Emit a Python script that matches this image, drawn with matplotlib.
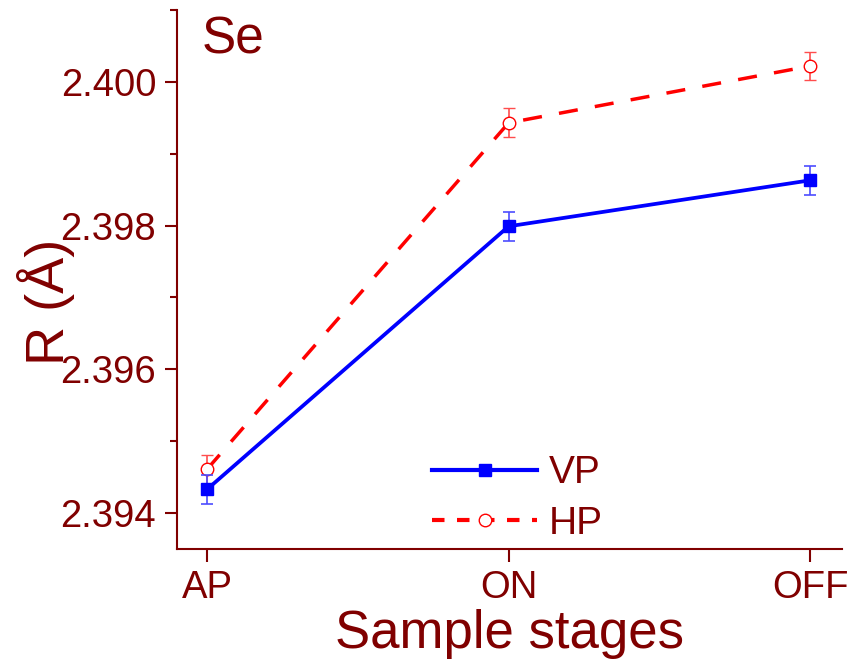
import matplotlib
matplotlib.use("Agg")
import matplotlib.pyplot as plt
from matplotlib.lines import Line2D
from matplotlib.ticker import MultipleLocator

stages = ["AP", "ON", "OFF"]
vp = [2.39433, 2.39799, 2.39863]
vp_err = [0.0002, 0.0002, 0.0002]
hp = [2.39461, 2.39943, 2.40022]
hp_err = [0.0002, 0.0002, 0.0002]

dark = "#800000"
dash = (0, (5.5, 5))
plt.rcParams["font.family"] = ["Liberation Sans", "DejaVu Sans"]

fig = plt.figure(figsize=(8.48, 6.67), dpi=100)
ax = fig.add_axes([0.2087, 0.177, 0.784, 0.808])

x = list(range(len(stages)))
ax.errorbar(x, vp, yerr=vp_err, color="blue", lw=2.7, marker="s", ms=8,
            ecolor=(0.3, 0.3, 1.0), elinewidth=1.2, capsize=4, capthick=1.2,
            zorder=3)
ax.errorbar(x, hp, yerr=hp_err, color="red", lw=2.5, ls=dash, marker="o", ms=9,
            mfc="white", mec="red", mew=1.0,
            ecolor=(1.0, 0.3, 0.3), elinewidth=1.2, capsize=4, capthick=1.2,
            zorder=2)

ax.set_xlim(-0.1, 2.105)
ax.set_ylim(2.3935, 2.401)
ax.set_xticks(x)
ax.set_xticklabels(stages)
ax.yaxis.set_major_locator(MultipleLocator(0.002))
ax.yaxis.set_minor_locator(MultipleLocator(0.001))
ax.yaxis.set_major_formatter(plt.FormatStrFormatter("%.3f"))

for side in ["top", "right"]:
    ax.spines[side].set_visible(False)
for side in ["left", "bottom"]:
    ax.spines[side].set_color(dark)
    ax.spines[side].set_linewidth(1.5)

ax.tick_params(axis="both", which="major", direction="out", length=9, width=1.5,
               colors=dark, labelsize=27.5, pad=6)
ax.tick_params(axis="y", which="minor", direction="out", length=5, width=1.5, colors=dark)

ax.set_xlabel("Sample stages", fontsize=38, color=dark, labelpad=2)
fig.text(17 / 848, 1 - 302 / 667, "R (Å)", rotation=90, fontsize=39, color=dark,
         ha="left", va="center")

ax.text(202 / 848, 1 - 16 / 667, "Se", transform=fig.transFigure, fontsize=37,
        color=dark, ha="left", va="top")

handles = [
    Line2D([], [], color="blue", lw=3, marker="s", ms=8),
    Line2D([], [], color="red", lw=3, ls=(0, (3, 3)), marker="o", ms=9,
           mfc="white", mec="red", mew=1.0),
]
leg = ax.legend(handles, ["VP", "HP"], loc="upper left", bbox_to_anchor=(0.355, 0.21),
                frameon=False, borderpad=0, fontsize=28, handlelength=2.7,
                handletextpad=0.3, labelspacing=0.38)
for t in leg.get_texts():
    t.set_color(dark)

fig.savefig("out.png", dpi=100)
